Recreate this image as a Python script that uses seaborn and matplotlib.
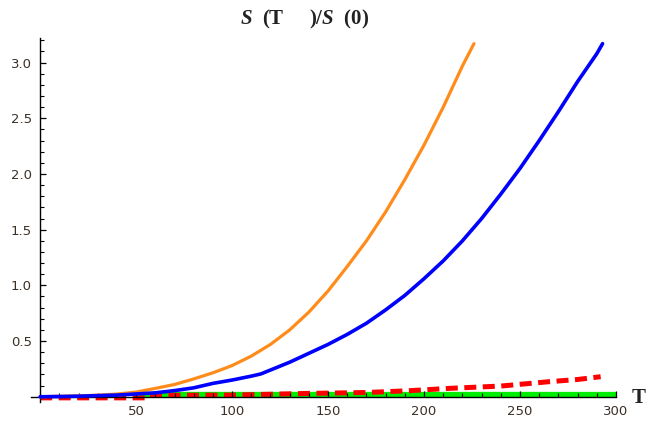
import matplotlib
matplotlib.use("Agg")
import matplotlib.pyplot as plt
import numpy as np
import pandas as pd
import seaborn as sns
from matplotlib.ticker import MultipleLocator, FixedLocator, FuncFormatter

# values
t_orange = [0, 10, 20, 30, 40, 50, 60, 70, 80, 90, 100, 110, 120, 130, 140,
            150, 160, 170, 180, 190, 200, 210, 220, 226]
s_orange = [0, 0.004, 0.008, 0.014, 0.024, 0.042, 0.075, 0.11, 0.16, 0.215,
            0.28, 0.365, 0.47, 0.6, 0.76, 0.95, 1.17, 1.40, 1.66, 1.95, 2.26,
            2.6, 2.97, 3.17]

t_blue = [0, 10, 20, 30, 40, 50, 60, 70, 80, 90, 100, 110, 115, 120, 130, 140,
          150, 160, 170, 180, 190, 200, 210, 220, 230, 240, 250, 260, 270, 280,
          290, 293]
s_blue = [0, 0.002, 0.005, 0.01, 0.015, 0.025, 0.035, 0.055, 0.08, 0.12, 0.15,
          0.185, 0.205, 0.24, 0.31, 0.39, 0.47, 0.56, 0.66, 0.78, 0.91, 1.06,
          1.22, 1.4, 1.6, 1.82, 2.05, 2.3, 2.56, 2.83, 3.08, 3.17]

t_red = [0, 55, 56, 100, 140, 170, 192, 213, 240, 265, 280, 292]
s_red = [-0.01, -0.01, 0.012, 0.015, 0.03, 0.038, 0.054, 0.075, 0.096, 0.135,
         0.155, 0.18]

t_green = [50, 300]
s_green = [0.022, 0.022]

x_major = [50, 100, 150, 200, 250, 300]
y_major = [0.5, 1.0, 1.5, 2.0, 2.5, 3.0]

sns.set_style("white")
plt.rcParams["mathtext.fontset"] = "custom"
plt.rcParams["mathtext.it"] = "Liberation Serif:italic:bold"
plt.rcParams["mathtext.rm"] = "Liberation Serif:bold"

fig = plt.figure(figsize=(6.5, 4.26), dpi=100)
ax = fig.add_axes([0.047, 0.0556, 0.9007, 0.855])

# curves
sns.lineplot(x=t_green, y=s_green, ax=ax, color="#00ee00", lw=3.8,
             estimator=None, zorder=1)
sns.lineplot(x=t_red, y=s_red, ax=ax, color="#ff0000", lw=3.6,
             estimator=None, zorder=1.5).lines[-1].set_dashes((2.4, 1.3))
sns.lineplot(x=t_orange, y=s_orange, ax=ax, color="#ff8c1a", lw=2.3,
             estimator=None, zorder=3)
sns.lineplot(x=t_blue, y=s_blue, ax=ax, color="#0000ff", lw=2.6,
             estimator=None, zorder=3)

ax.set_xlim(-5, 300)
ax.set_ylim(-0.05, 3.22)

# Mathematica-like axes crossing at origin, ticks drawn over the flat curves
ax.set_axisbelow(False)
for side in ["top", "right"]:
    ax.spines[side].set_visible(False)
ax.spines["left"].set_position(("data", 0))
ax.spines["bottom"].set_position(("data", 0))
for side in ["left", "bottom"]:
    ax.spines[side].set_color("black")
    ax.spines[side].set_linewidth(1.0)
    ax.spines[side].set_zorder(2)

ax.xaxis.set_major_locator(FixedLocator(x_major))
ax.xaxis.set_minor_locator(MultipleLocator(10))
ax.yaxis.set_major_locator(FixedLocator(y_major))
ax.yaxis.set_minor_locator(MultipleLocator(0.1))
ax.yaxis.set_major_formatter(FuncFormatter(lambda v, p: "%.1f" % v))

ax.tick_params(which="both", bottom=True, left=True, top=False, right=False)
ax.tick_params(which="major", direction="in", length=4.5, width=0.9,
               color="black", labelsize=9.5, labelcolor="#3a3026")
ax.tick_params(which="minor", direction="in", length=2.8, width=0.8,
               color="black")
ax.tick_params(axis="x", which="major", pad=6)
ax.tick_params(axis="y", which="major", pad=6)
ax.set_xlabel("")
ax.set_ylabel("")

fig.text(0.468, 0.955, r"$S$  (T     )/$S$  (0)", ha="center", va="center",
         family="Liberation Serif", weight="bold", fontsize=15, color="#222222")
fig.text(0.983, 0.065, "T", ha="center", va="center",
         family="Liberation Serif", weight="bold", fontsize=15, color="#222222")

fig.savefig("out.png", dpi=100)
